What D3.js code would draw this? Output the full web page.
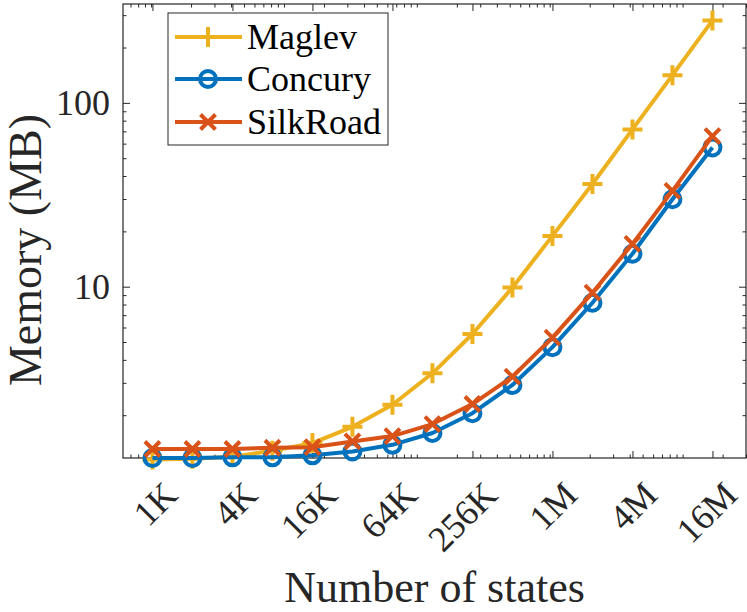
<!DOCTYPE html>
<html>
<head>
<meta charset="utf-8">
<script src="https://cdn.jsdelivr.net/npm/d3@7"></script>
<style>
  body { margin: 0; background: #fff; }
</style>
</head>
<body>
<svg class="chart" width="747" height="612"></svg>
<script>
// number of states on the x axis (1K .. 16M, doubling)
const states = [1024, 2048, 4096, 8192, 16384, 32768, 65536, 131072, 262144,
    524288, 1048576, 2097152, 4194304, 8388608, 16777216];
const tickStates = [1024, 4096, 16384, 65536, 262144, 1048576, 4194304, 16777216];
const tickLabels = ['1K', '4K', '16K', '64K', '256K', '1M', '4M', '16M'];

// memory in MB
const maglev = [1.15, 1.16, 1.19, 1.28, 1.41, 1.73, 2.28, 3.38, 5.53, 9.9, 18.9, 36.2, 71.7, 141.5, 281];
const concury = [1.17, 1.17, 1.18, 1.18, 1.21, 1.27, 1.38, 1.60, 2.05, 2.92, 4.69, 8.18, 15.1, 29.9, 57.2];
const silkroad = [1.31, 1.31, 1.31, 1.33, 1.34, 1.44, 1.54, 1.79, 2.30, 3.24, 5.28, 9.28, 17.1, 33.2, 65.9];

const seriesNames = ['Maglev', 'Concury', 'SilkRoad'];
const yTickValues = [10, 100];

const colors = ['#EDB120', '#0072BD', '#D95319'];
const markers = ['plus', 'circle', 'cross'];

const serif = "'Liberation Serif'";

makeChart();

function makeChart() {
    var plot = { left: 123, right: 746, top: 4, bottom: 458 };
    var svg = d3.select('.chart');

    var x = d3.scaleLog()
        .domain([615, 3e7])
        .range([plot.left, plot.right]);

    var y = d3.scaleLog()
        .domain([1.17, 345])
        .range([plot.bottom, plot.top]);

    var axisColor = '#262626';

    // minor ticks at k*10^n, major ticks at the labelled values
    var xMinor = x.ticks();
    var yMinor = y.ticks().filter(d => yTickValues.indexOf(d) < 0);

    function styleAxis(sel) {
        sel.select('.domain').remove();
        sel.selectAll('line').attr('stroke', axisColor).attr('stroke-width', 1);
    }

    // bottom / top
    svg.append('g')
        .attr('transform', 'translate(0,' + plot.bottom + ')')
        .call(d3.axisBottom(x).tickValues(xMinor).tickFormat('').tickSize(-3.5))
        .call(styleAxis);
    svg.append('g')
        .attr('transform', 'translate(0,' + plot.bottom + ')')
        .call(d3.axisBottom(x).tickValues(tickStates).tickFormat('').tickSize(-7))
        .call(styleAxis);
    svg.append('g')
        .attr('transform', 'translate(0,' + plot.top + ')')
        .call(d3.axisTop(x).tickValues(xMinor).tickFormat('').tickSize(-3.5))
        .call(styleAxis);
    svg.append('g')
        .attr('transform', 'translate(0,' + plot.top + ')')
        .call(d3.axisTop(x).tickValues(tickStates).tickFormat('').tickSize(-7))
        .call(styleAxis);

    // left / right
    svg.append('g')
        .attr('transform', 'translate(' + plot.left + ',0)')
        .call(d3.axisLeft(y).tickValues(yMinor).tickFormat('').tickSize(-3.5))
        .call(styleAxis);
    var yAxis = svg.append('g')
        .attr('transform', 'translate(' + plot.left + ',0)')
        .call(d3.axisLeft(y).tickValues(yTickValues).tickFormat(d3.format('d')).tickSize(-7).tickPadding(13))
        .call(styleAxis);
    yAxis.attr('font-family', null).attr('font-size', null);
    yAxis.selectAll('text')
        .style('font-family', serif)
        .style('font-size', '36px')
        .attr('fill', axisColor)
        .attr('dy', '0.33em');
    svg.append('g')
        .attr('transform', 'translate(' + plot.right + ',0)')
        .call(d3.axisRight(y).tickValues(yMinor).tickFormat('').tickSize(-3.5))
        .call(styleAxis);
    svg.append('g')
        .attr('transform', 'translate(' + plot.right + ',0)')
        .call(d3.axisRight(y).tickValues(yTickValues).tickFormat('').tickSize(-7))
        .call(styleAxis);

    // box
    svg.append('rect')
        .attr('x', plot.left)
        .attr('y', plot.top)
        .attr('width', plot.right - plot.left)
        .attr('height', plot.bottom - plot.top)
        .attr('fill', 'none')
        .attr('stroke', axisColor)
        .attr('stroke-width', 1.2);

    // rotated x tick labels
    svg.selectAll('.xlab')
        .data(tickStates)
        .enter().append('text')
        .attr('class', 'xlab')
        .attr('text-anchor', 'end')
        .style('font-family', serif)
        .style('font-size', '36px')
        .attr('fill', axisColor)
        .attr('transform', (d, i) => 'translate(' + (x(d) + 27) + ',' + 497 + ') rotate(-45)')
        .text((d, i) => tickLabels[i]);

    // axis titles
    svg.append('text')
        .attr('x', (plot.left + plot.right) / 2)
        .attr('y', 602)
        .attr('text-anchor', 'middle')
        .style('font-family', serif)
        .style('font-size', '44px')
        .attr('fill', axisColor)
        .text('Number of states');

    svg.append('text')
        .attr('transform', 'translate(41,250) rotate(-90)')
        .attr('text-anchor', 'middle')
        .style('font-family', serif)
        .style('font-size', '46px')
        .attr('fill', axisColor)
        .text('Memory (MB)');

    // series
    var allSeries = [maglev, concury, silkroad];
    var line = d3.line()
        .x((d, i) => x(states[i]))
        .y(d => y(d));

    allSeries.forEach(function(vals, s) {
        var g = svg.append('g');
        g.append('path')
            .datum(vals)
            .attr('fill', 'none')
            .attr('stroke', colors[s])
            .attr('stroke-width', 4)
            .attr('stroke-linejoin', 'round')
            .attr('d', line);

        g.selectAll('.mk')
            .data(vals)
            .enter().append('g')
            .attr('transform', (d, i) => 'translate(' + x(states[i]) + ',' + y(d) + ')')
            .each(function() { drawMarker(d3.select(this), markers[s], colors[s]); });
    });

    // legend
    var legend = svg.append('g');
    legend.append('rect')
        .attr('x', 168)
        .attr('y', 13)
        .attr('width', 220)
        .attr('height', 132)
        .attr('fill', '#fff')
        .attr('stroke', axisColor)
        .attr('stroke-width', 1);

    var rowY = [37, 79, 122];
    seriesNames.forEach(function(name, s) {
        legend.append('line')
            .attr('x1', 175).attr('x2', 242)
            .attr('y1', rowY[s]).attr('y2', rowY[s])
            .attr('stroke', colors[s])
            .attr('stroke-width', 4);
        drawMarker(legend.append('g').attr('transform', 'translate(208,' + rowY[s] + ')'), markers[s], colors[s]);
        legend.append('text')
            .attr('x', 247)
            .attr('y', rowY[s] + 12)
            .style('font-family', serif)
            .style('font-size', '36px')
            .attr('fill', '#000')
            .text(name);
    });
}

function drawMarker(g, type, color) {
    if (type === 'circle') {
        g.append('circle')
            .attr('r', 8)
            .attr('fill', 'none')
            .attr('stroke', color)
            .attr('stroke-width', 4);
    } else if (type === 'plus') {
        g.append('path')
            .attr('d', 'M-10,0H10M0,-10V10')
            .attr('stroke', color)
            .attr('stroke-width', 4);
    } else {
        g.append('path')
            .attr('d', 'M-7.5,-7.5L7.5,7.5M-7.5,7.5L7.5,-7.5')
            .attr('stroke', color)
            .attr('stroke-width', 4);
    }
}
</script>
</body>
</html>
